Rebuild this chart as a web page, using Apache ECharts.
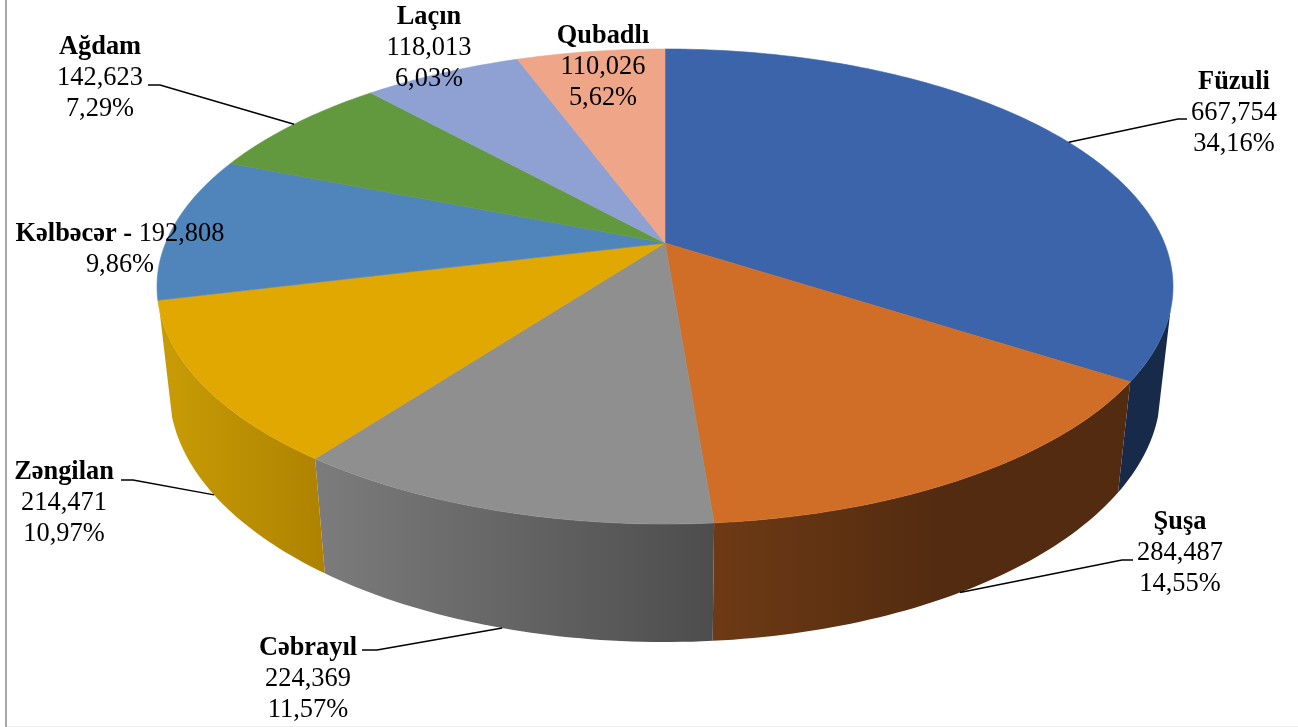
<!DOCTYPE html>
<html>
<head>
<meta charset="UTF-8">
<title>Rayonlar</title>
<script src="https://cdn.jsdelivr.net/npm/echarts@6/dist/echarts.min.js"></script>
<style>
  html, body { margin: 0; padding: 0; background: #fff; }
  #main { width: 1298px; height: 727px; }
</style>
</head>
<body>
<div id="main"></div>
<script>
// data
var districts = ['Füzuli', 'Şuşa', 'Cəbrayıl', 'Zəngilan', 'Kəlbəcər', 'Ağdam', 'Laçın', 'Qubadlı'];
var areas = [667754, 284487, 224369, 214471, 192808, 142623, 118013, 110026];
var areaLabels = ['667,754', '284,487', '224,369', '214,471', '192,808', '142,623', '118,013', '110,026'];
var percentLabels = ['34,16%', '14,55%', '11,57%', '10,97%', '9,86%', '7,29%', '6,03%', '5,62%'];

var topColors = ['#3b64ab', '#d06e28', '#8f8f8f', '#e0a800', '#5085bb', '#62993f', '#8ea1d2', '#efa588'];
var wallLeft = ['#172a49', '#6e3a15', '#7c7c7c', '#c99c06', '#3a628a', '#48712e', '#68769a', '#b07a64'];
var wallRight = ['#172a49', '#522b10', '#4d4d4d', '#ae8200', '#3a628a', '#48712e', '#68769a', '#b07a64'];

// label centre and elbow of the leader line, in page pixels
var labelSpots = [[1234, 113.5], [1180, 553], [308, 679], [64, 503.5], [120, 250], [100, 78], [429, 48], [603, 67]];
var elbows = [[[1178, 119], [1187, 119]], [[1122, 560], [1133, 560]], [[377, 650], [362, 650]], [[133, 480], [121, 480]],
  null, [[160, 85], [148, 85]], null, null];

// perspective of the disc
var tilt = 0.183;
var depth = 0.4345;
var depthPower = 0.664;
var vanishY = -18.16;
// the wall is only seen between these two angles
var wallFrom = 106;
var wallTo = 254;

var total = areas.reduce(function (a, b) { return a + b; }, 0);
var starts = [];
var run = 0;
areas.forEach(function (v) { starts.push(run / total * 360); run += v; });

function rimPoint(deg) {
  var r = deg * Math.PI / 180;
  var u = Math.sin(r), v = Math.cos(r);
  var w = 1 + tilt * v;
  return [Math.sqrt(1 - tilt * tilt) * u / w, tilt + (1 - tilt * tilt) * v / w, w];
}
function lowerPoint(deg) {
  var p = rimPoint(deg);
  var h = depth / Math.pow(p[2], depthPower);
  return [p[0] * (1 - h / (p[1] - vanishY)), p[1] - h];
}
function arc(from, to, fn) {
  var pts = [];
  var n = Math.max(2, Math.ceil(to - from));
  for (var i = 0; i <= n; i++) pts.push(fn(from + (to - from) * i / n));
  return pts;
}
function sliceSpan(i, api) {
  var from = starts[i];
  return [from, from + api.value(1) / total * 360];
}

function renderWall(params, api) {
  var i = params.dataIndex;
  var s = sliceSpan(i, api);
  var from = Math.max(s[0], wallFrom);
  var to = Math.min(s[1], wallTo);
  if (to <= from) return null;
  var pts = arc(from, to, rimPoint).concat(arc(from, to, lowerPoint).reverse());
  return {
    type: 'polygon',
    shape: { points: pts.map(function (p) { return api.coord([p[0], p[1]]); }) },
    style: {
      fill: { type: 'linear', x: 0, y: 0, x2: 1, y2: 0, colorStops: [
        { offset: 0, color: wallLeft[i] },
        { offset: i === 1 ? 0.55 : 1, color: wallRight[i] },
        { offset: 1, color: wallRight[i] }
      ] }
    }
  };
}
function renderTop(params, api) {
  var i = params.dataIndex;
  var s = sliceSpan(i, api);
  var pts = [[0, tilt]].concat(arc(s[0], s[1], rimPoint));
  return {
    type: 'polygon',
    shape: { points: pts.map(function (p) { return api.coord([p[0], p[1]]); }) },
    style: { fill: topColors[i], stroke: topColors[i], lineWidth: 0.6 }
  };
}
function renderLabel(params, api) {
  var i = params.dataIndex;
  var s = sliceSpan(i, api);
  var mid = (s[0] + s[1]) / 2;
  var children = [];
  if (elbows[i]) {
    // leader starts at the middle of the slice, on the rim or on the wall's lower edge
    var onWall = Math.cos(mid * Math.PI / 180) < -0.3;
    var a = onWall ? lowerPoint(mid) : rimPoint(mid);
    var start = api.coord([a[0], a[1]]);
    children.push({
      type: 'polyline',
      shape: { points: [start, elbows[i][0], elbows[i][1]] },
      style: { fill: null, stroke: '#000', lineWidth: 1.5 }
    });
  }
  var text = i === 4
    ? '{b|' + districts[i] + ' - }{n|' + areaLabels[i] + '}\n{n|' + percentLabels[i] + '}'
    : '{b|' + districts[i] + '}\n{n|' + areaLabels[i] + '}\n{n|' + percentLabels[i] + '}';
  children.push({
    type: 'text',
    style: {
      x: labelSpots[i][0], y: labelSpots[i][1],
      text: text, align: 'center', verticalAlign: 'middle',
      rich: {
        b: { fontFamily: 'Liberation Serif', fontSize: 26.4, fontWeight: 'bold', fill: '#000', lineHeight: 31 },
        n: { fontFamily: 'Liberation Serif', fontSize: 26.4, fill: '#000', lineHeight: 31 }
      }
    }
  });
  return { type: 'group', children: children };
}

var seriesData = areas.map(function (v, i) { return [i, v]; });
function layer(fn) {
  return { type: 'custom', coordinateSystem: 'cartesian2d', renderItem: fn, data: seriesData, clip: false, silent: true, animation: false };
}

var chart = echarts.init(document.getElementById('main'), null, { renderer: 'canvas' });
chart.setOption({
  backgroundColor: '#fff',
  animation: false,
  grid: { left: 157, top: 49, width: 1016, height: 593.75 },
  xAxis: { type: 'value', min: -1, max: 1, show: false },
  yAxis: { type: 'value', min: -1.5, max: 1, show: false },
  graphic: [
    { type: 'rect', shape: { x: 5, y: 0, width: 2, height: 727 }, style: { fill: '#a8a8a8' }, silent: true },
    { type: 'rect', shape: { x: 7, y: 726, width: 1291, height: 1 }, style: { fill: '#ececec' }, silent: true }
  ],
  series: [layer(renderWall), layer(renderTop), layer(renderLabel)]
});
</script>
</body>
</html>
